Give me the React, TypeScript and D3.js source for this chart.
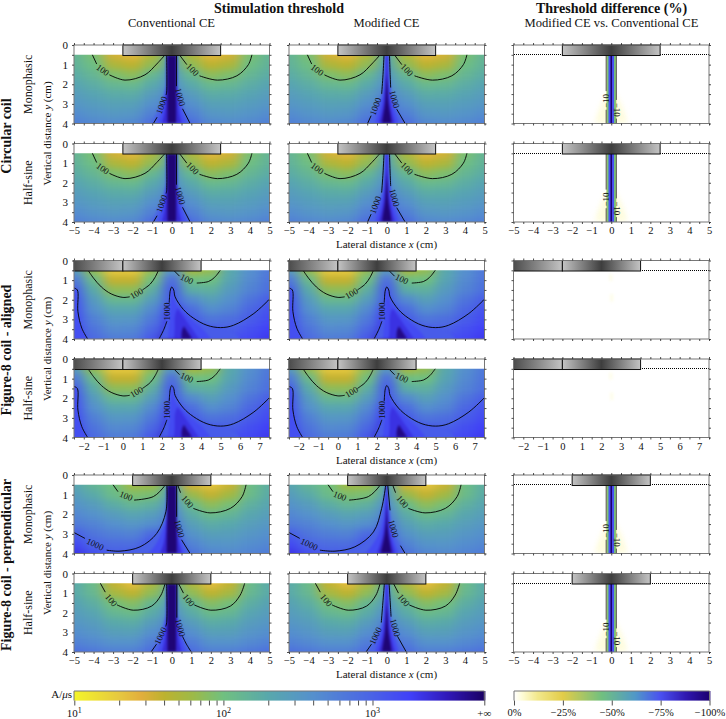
import React, { useRef, useEffect } from 'react';
import * as d3 from 'd3';

// threshold colour map (A/us)
const cmapValues = [10, 20, 28, 40, 63, 100, 200, 400, 1000, 1800, 3200, 5623];
const cmapColors = ['#f4f42a', '#e6c83f', '#e2ae3c', '#bdb22f', '#9cba48', '#70c080', '#58a8ac', '#5590cd', '#4a62e6', '#4040f8', '#3018b8', '#1a0064'];
const diffValues = [0, -4, -12, -25, -45, -62, -75, -88, -100];
const diffColors = ['#ffffff', '#fefcd8', '#f2e88c', '#e2cc48', '#70c080', '#5098c8', '#4a50f0', '#3018b0', '#1c0070'];
const cbarTicks = [10, 20, 30, 40, 50, 60, 70, 80, 90, 100, 200, 300, 400, 500, 600, 700, 800, 900, 1000];
const diffTicks = [0, -25, -50, -75, -100];
const yRows = [0.5, 1, 1.5, 2, 2.5, 3, 3.5, 4];

// fields, x = 0..5 mirrored
const halfColumns = [0, 1, 2, 3, 4, 5];
const circularRows = [
  [170, 50, 25, 33, 90, 140],
  [210, 70, 40, 50, 105, 150],
  [300, 125, 72, 85, 135, 180],
  [400, 190, 120, 130, 175, 225],
  [520, 280, 180, 185, 225, 280],
  [680, 400, 250, 245, 285, 340],
  [850, 560, 340, 320, 360, 430],
  [1000, 800, 470, 430, 470, 550],
];
const perpHalfRows = [
  [150, 50, 23, 38, 115, 190],
  [200, 72, 40, 56, 130, 190],
  [290, 130, 78, 95, 170, 235],
  [400, 185, 115, 135, 220, 280],
  [530, 280, 180, 195, 280, 340],
  [690, 410, 260, 265, 350, 420],
  [860, 590, 380, 380, 460, 540],
  [1000, 820, 560, 560, 650, 750],
];
const perpMonoColumns = [-5, -4, -3, -2, -1, 0, 1, 2, 3, 4, 5];
const perpMonoRows = [
  [220, 140, 100, 60, 62, 200, 33, 21, 36, 110, 170],
  [280, 190, 115, 85, 90, 260, 65, 38, 58, 115, 185],
  [370, 280, 180, 135, 160, 380, 115, 72, 92, 160, 220],
  [480, 380, 280, 220, 270, 520, 180, 115, 140, 210, 270],
  [620, 520, 400, 340, 420, 700, 260, 180, 200, 270, 330],
  [1050, 680, 560, 520, 850, 1000, 370, 260, 270, 340, 400],
  [1500, 950, 800, 780, 1250, 1300, 520, 360, 350, 420, 480],
  [2100, 1350, 1080, 1100, 1700, 1900, 720, 490, 450, 510, 600],
];
const alignedColumns = [-2.5, -1.5, -0.5, 0.5, 1.5, 2.5, 3.5, 4.5, 5.5, 6.5, 7.5];
const alignedRows = [
  [300, 70, 20, 20, 70, 350, 55, 70, 200, 400, 650],
  [650, 120, 38, 38, 100, 800, 105, 100, 230, 450, 700],
  [1000, 190, 72, 72, 170, 1050, 180, 160, 300, 520, 760],
  [1200, 290, 130, 130, 280, 1050, 450, 260, 400, 700, 1050],
  [1300, 400, 220, 220, 450, 1600, 800, 420, 520, 900, 1300],
  [1400, 550, 330, 340, 650, 1900, 1100, 700, 780, 1100, 1500],
  [1500, 700, 450, 470, 900, 2200, 1500, 1050, 1050, 1400, 1800],
  [1700, 850, 600, 620, 1200, 3500, 2500, 1500, 1400, 1600, 2000],
];

// iso bands: value, then rows of y, x0, x1
const circularConvBands = [
  { v: 1000, r: [[0.5, -0.3, 0.3], [2, -0.3, 0.3], [2.5, -0.4, 0.4], [3, -0.55, 0.52], [3.5, -0.78, 0.72], [4, -1.05, 1]] },
  { v: 1500, r: [[0.5, -0.28, 0.28], [2, -0.28, 0.28], [3, -0.42, 0.42], [3.5, -0.55, 0.55], [4, -0.75, 0.75]] },
  { v: 2500, r: [[0.5, -0.26, 0.26], [2, -0.26, 0.26], [3, -0.32, 0.32], [3.5, -0.38, 0.38], [4, -0.5, 0.5]] },
  { v: 5000, r: [[0.5, -0.22, 0.22], [4, -0.22, 0.22]] },
];
const circularModBands = [
  { v: 1000, r: [[0.5, -0.14, 0.14], [1, -0.15, 0.15], [2, -0.2, 0.2], [2.5, -0.26, 0.26], [3, -0.45, 0.42], [3.5, -0.7, 0.62], [4, -0.95, 0.92]] },
  { v: 1500, r: [[0.5, -0.08, 0.08], [2, -0.14, 0.14], [3, -0.3, 0.3], [3.5, -0.46, 0.46], [4, -0.62, 0.62]] },
  { v: 2500, r: [[0.5, -0.03, 0.03], [2, -0.08, 0.08], [3, -0.18, 0.18], [3.5, -0.28, 0.28], [4, -0.42, 0.42]] },
  { v: 5000, r: [[1.5, 0, 0], [2, -0.03, 0.03], [3, -0.09, 0.09], [3.5, -0.17, 0.17], [4, -0.25, 0.25]] },
];
const perpConvBands = [
  { v: 1000, r: [[0.5, -0.26, 0.26], [2, -0.32, 0.26], [3, -0.8, 0.42], [3.5, -1.4, 0.68], [4, -2.2, 0.94]] },
  { v: 1500, r: [[0.5, -0.26, 0.26], [2, -0.27, 0.26], [3, -0.55, 0.34], [3.5, -0.8, 0.5], [4, -1.2, 0.7]] },
  { v: 2500, r: [[0.5, -0.24, 0.24], [2, -0.25, 0.25], [3, -0.34, 0.3], [3.5, -0.42, 0.38], [4, -0.6, 0.5]] },
  { v: 5000, r: [[0.5, -0.22, 0.22], [4, -0.26, 0.26]] },
];
const perpModBands = [
  { v: 1000, r: [[0.5, -0.08, 0.06], [1.7, -0.26, 0.15], [2.9, -0.68, 0.32], [3.6, -1.4, 0.7], [4, -2.2, 0.94]] },
  { v: 1500, r: [[0.5, -0.05, 0.04], [2, -0.15, 0.12], [3, -0.42, 0.26], [3.5, -0.7, 0.42], [4, -1.1, 0.62]] },
  { v: 2500, r: [[0.5, -0.02, 0.02], [2, -0.07, 0.07], [3, -0.2, 0.16], [3.5, -0.32, 0.28], [4, -0.5, 0.42]] },
  { v: 5000, r: [[1.5, 0, 0], [2, -0.02, 0.02], [3, -0.1, 0.08], [3.5, -0.2, 0.16], [4, -0.32, 0.26]] },
];
const alignedBands = [
  { v: 1400, r: [[1.4, -2.7, -2.5], [1.5, -2.7, -2.33], [2.6, -2.7, -2.3], [3.45, -2.7, -2.1], [4, -2.7, -1.8]] },
  { v: 1100, r: [[1.35, 2.5, 2.5], [1.5, 2.43, 2.6], [1.9, 2.4, 2.72], [2.6, 2.3, 3.15], [3.2, 2.2, 3.95], [3.42, 2.1, 5], [4, 1.85, 6]] },
  { v: 1500, r: [[1.5, 2.47, 2.55], [2, 2.45, 2.62], [3, 2.4, 3.5], [3.5, 2.35, 4.1], [4, 2.3, 4.5]] },
  { v: 2200, r: [[2.5, 2.75, 2.85], [3, 2.65, 3.2], [3.5, 2.65, 3.55], [4, 2.6, 3.9]] },
  { v: 4500, r: [[3.4, 3.08, 3.16], [3.75, 3, 3.38], [4, 3, 3.55]] },
];
const diffGlow = [{ v: -3.5, r: [[2.3, -0.1, 0.1], [3, -0.5, 0.5], [3.5, -0.7, 0.7], [4, -0.85, 0.85]] }];
const diffStripes = [
  { v: -35, r: [[0.5, -0.25, 0.26], [4, -0.25, 0.26]] },
  { v: -45, r: [[0.5, -0.2, 0.22], [4, -0.2, 0.22]] },
  { v: -75, r: [[0.5, -0.14, 0.14], [4, -0.14, 0.14]] },
  { v: -100, r: [[0.5, -0.04, 0.04], [4, -0.04, 0.04]] },
];
const alignedSpots = [
  { v: -2.5, r: [[0.7, 2.4, 2.55], [1.05, 2.4, 2.55]] },
  { v: -2.5, r: [[1.7, 2.45, 2.6], [2.1, 2.45, 2.6]] },
];

// contour segments (x, y in cm), split where labels sit
const circular100 = [
  [[-4.06, 0.5], [-3.84, 0.97]],
  [[-3.19, 1.52], [-2.39, 1.79], [-1.37, 1.52], [-0.77, 0.97], [-0.34, 0.5]],
  [[0.39, 0.5], [0.77, 1]],
  [[1.42, 1.57], [2.34, 1.79], [3.33, 1.57], [3.92, 1], [4.1, 0.5]],
];
const circularConv1000 = [
  [[-0.26, 0.5], [-0.26, 2.4], [-0.29, 2.55]],
  [[-0.75, 3.68], [-0.94, 4]],
  [[0.24, 0.5], [0.24, 2.1]],
  [[0.55, 3.25], [0.94, 4]],
];
const circularMod1000 = [
  [[-0.14, 0.5], [-0.19, 1.5], [-0.26, 2.5]],
  [[-0.8, 3.6], [-0.98, 4]],
  [[0.14, 0.5], [0.17, 1.4], [0.2, 2.17]],
  [[0.51, 3.27], [0.94, 4]],
];
const aligned100 = [
  [[-1.78, 0.5], [-1.5, 0.9], [-1.1, 1.35], [-0.6, 1.7], [0, 1.88], [0.35, 1.85]],
  [[1, 1.5], [1.4, 1.2], [1.65, 0.85], [1.82, 0.5]],
  [[2.6, 0.5], [2.9, 0.8]],
  [[3.78, 1.15], [4.38, 1.07], [4.7, 0.85], [4.98, 0.5]],
];
const aligned1000 = [
  [[-2.5, 1.4], [-2.33, 1.5], [-2.3, 2.6], [-2.1, 3.45], [-1.8, 4]],
  [[1.85, 4], [2.1, 3.5], [2.25, 3.1]],
  [[2.37, 2.15], [2.4, 1.7], [2.43, 1.5], [2.5, 1.35], [2.6, 1.5], [2.67, 1.85], [3.1, 2.5], [3.6, 2.93], [4.3, 3.3], [5, 3.42], [5.66, 3.3], [6.7, 2.7], [7.5, 1.97]],
];
const perpMono100 = [
  [[-3, 0.5], [-2.75, 0.85]],
  [[-1.93, 1.28], [-0.94, 1.1], [-0.4, 0.6], [-0.34, 0.5]],
  [[0.3, 0.5], [0.45, 0.9]],
  [[1.1, 1.7], [1.96, 1.93], [3, 1.7], [3.6, 1.1], [3.8, 0.5]],
];
const perpMonoConv1000 = [
  [[-5, 2.93], [-4.44, 3.23]],
  [[-3.33, 3.83], [-2.65, 3.88], [-1.62, 3.66], [-0.77, 2.98], [-0.3, 1.87], [-0.25, 0.5]],
  [[0.25, 0.5], [0.25, 2.13]],
  [[0.5, 3.3], [0.94, 4]],
];
const perpMonoMod1000 = [
  [[-5, 2.93], [-4.45, 3.23]],
  [[-3.42, 3.83], [-2.65, 3.88], [-1.63, 3.66], [-0.68, 2.9], [-0.26, 1.7], [-0.05, 0.5]],
  [[0.05, 0.5], [0.17, 1.8]],
  [[0.7, 3.6], [0.94, 4]],
];
const perpHalf100 = [
  [[-3.65, 0.5], [-3.4, 0.95]],
  [[-2.8, 1.6], [-1.97, 1.87], [-1.03, 1.66], [-0.55, 1.1], [-0.34, 0.5]],
  [[0.34, 0.5], [0.6, 1]],
  [[1.15, 1.6], [2, 1.87], [3, 1.66], [3.5, 1.1], [3.73, 0.5]],
];
const perpHalfConv1000 = [
  [[-0.26, 0.5], [-0.26, 2.5], [-0.31, 2.7]],
  [[-0.78, 3.6], [-1.06, 4]],
  [[0.26, 0.5], [0.26, 2.25]],
  [[0.55, 3.2], [0.75, 3.6], [1, 4]],
];
const perpHalfMod1000 = [
  [[-0.12, 0.5], [-0.2, 1.5], [-0.28, 2.5]],
  [[-0.78, 3.6], [-1.06, 4]],
  [[0.12, 0.5], [0.18, 1.5], [0.22, 2.2]],
  [[0.55, 3.2], [1, 4]],
];
const diff10 = [
  [[-0.26, 0.5], [-0.26, 2.35]],
  [[-0.26, 3.3], [-0.26, 4]],
  [[0.26, 0.5], [0.26, 2.8]],
  [[0.26, 3.75], [0.26, 4]],
];

// contour labels: x, y, angle, text
const circularConvLabels = [[-3.53, 1.28, 35, '100'], [1.06, 1.26, 45, '100'], [-0.51, 3.07, -70, '1000'], [0.43, 2.65, 75, '1000']];
const circularModLabels = [[-3.56, 1.27, 35, '100'], [1.03, 1.27, 45, '100'], [-0.57, 3.13, -70, '1000'], [0.39, 2.76, 75, '1000']];
const alignedLabels = [[0.7, 1.68, -30, '100'], [3.27, 0.95, 25, '100'], [2.28, 2.6, -90, '1000']];
const perpMonoConvLabels = [[-2.34, 1.07, 22, '100'], [0.8, 1.36, 50, '100'], [-3.92, 3.53, 25, '1000'], [0.39, 2.73, 75, '1000']];
const perpMonoModLabels = [[-2.4, 1.07, 22, '100'], [0.8, 1.36, 50, '100'], [-3.97, 3.53, 25, '1000'], [0.34, 2.73, 75, '1000']];
const perpHalfConvLabels = [[-3.1, 1.36, 50, '100'], [0.86, 1.36, 50, '100'], [-0.57, 3.18, -65, '1000'], [0.43, 2.76, 75, '1000']];
const diffLabels = [[-0.29, 2.85, -90, '\u221210'], [0.27, 3.3, 90, '\u221210']];

const mirror = (rows: number[][]) => rows.map(r => [...r.slice(1).reverse(), ...r]);
const mirrorX = (xs: number[]) => [...xs.slice(1).map(x => -x).reverse(), ...xs];

const light = '#c4c4c4';
const dark = '#3e3e3e';
const symmetricCoil = (half: number) => [{ from: -half, to: half, stops: [[0, light], [0.5, dark], [1, light]] }];
const alignedCoil = [
  { from: -2.5, to: 0, stops: [[0, '#4c4c4c'], [1, light]] },
  { from: 0, to: 4, stops: [[0, light], [0.5, dark], [1, light]] },
];

const circularField = { xs: mirrorX(halfColumns), rows: mirror(circularRows) };
const alignedField = { xs: alignedColumns, rows: alignedRows };
const perpMonoField = { xs: perpMonoColumns, rows: perpMonoRows };
const perpHalfField = { xs: mirrorX(halfColumns), rows: mirror(perpHalfRows) };

const fullAxis = [-5, 5];
const alignedAxis = [-2.5, 7.5];

const rowSpecs = [
  { top: 45, name: 'Monophasic', axis: fullAxis, field: circularField, coil: symmetricCoil(2.5), ticks: false, hasDiff: true,
    conv: [circularConvBands, [...circular100, ...circularConv1000], circularConvLabels], mod: [circularModBands, [...circular100, ...circularMod1000], circularModLabels] },
  { top: 143.5, name: 'Half-sine', axis: fullAxis, field: circularField, coil: symmetricCoil(2.5), ticks: true, hasDiff: true,
    conv: [circularConvBands, [...circular100, ...circularConv1000], circularConvLabels], mod: [circularModBands, [...circular100, ...circularMod1000], circularModLabels] },
  { top: 260.5, name: 'Monophasic', axis: alignedAxis, field: alignedField, coil: alignedCoil, ticks: false, hasDiff: false,
    conv: [alignedBands, [...aligned100, ...aligned1000], alignedLabels], mod: [alignedBands, [...aligned100, ...aligned1000], alignedLabels] },
  { top: 359, name: 'Half-sine', axis: alignedAxis, field: alignedField, coil: alignedCoil, ticks: true, hasDiff: false,
    conv: [alignedBands, [...aligned100, ...aligned1000], alignedLabels], mod: [alignedBands, [...aligned100, ...aligned1000], alignedLabels] },
  { top: 475, name: 'Monophasic', axis: fullAxis, field: perpMonoField, coil: symmetricCoil(2), ticks: false, hasDiff: true,
    conv: [perpConvBands, [...perpMono100, ...perpMonoConv1000], perpMonoConvLabels], mod: [perpModBands, [...perpMono100, ...perpMonoMod1000], perpMonoModLabels] },
  { top: 573.5, name: 'Half-sine', axis: fullAxis, field: perpHalfField, coil: symmetricCoil(2), ticks: true, hasDiff: true,
    conv: [circularConvBands, [...perpHalf100, ...perpHalfConv1000], perpHalfConvLabels], mod: [circularModBands, [...perpHalf100, ...perpHalfMod1000], perpHalfConvLabels] },
];

const colLefts = [74, 289, 513.5];
const panelW = 195.5;
const panelH = 78.5;
const serif = "'Liberation Serif', serif";

const App: React.FC = () => {
  const svgRef = useRef<SVGSVGElement | null>(null);

  useEffect(() => {
    const svg = d3.select(svgRef.current);
    svg.selectAll('*').remove();
    svg.style('font-family', serif);

    const cmap = d3.scaleLog<string>().domain(cmapValues).range(cmapColors).clamp(true);
    const dmap = d3.scaleLinear<string>().domain(diffValues).range(diffColors).clamp(true);

    const defs = svg.append('defs');
    const addBlur = (id: string, dev: string) =>
      defs.append('filter').attr('id', id)
        .attr('filterUnits', 'userSpaceOnUse')
        .attr('x', 0).attr('y', 0).attr('width', 726).attr('height', 719)
        .attr('color-interpolation-filters', 'sRGB')
        .append('feGaussianBlur').attr('stdDeviation', dev);
    addBlur('fieldBlur', '6 3.2');
    addBlur('bandBlur', '1 1.6');
    addBlur('stripeBlur', '0.4');
    addBlur('glowBlur', '2.5 3');
    addBlur('spotBlur', '1.5');

    let uid = 0;

    const drawBands = (g: any, x: any, y: any, bands: any[], color: (v: number) => string, filter: string) => {
      const area = d3.area<number[]>()
        .y(d => y(d[0]))
        .x0(d => x(d[1]))
        .x1(d => x(d[2]))
        .curve(d3.curveMonotoneY);
      const layer = g.append('g').attr('filter', `url(#${filter})`);
      bands.forEach(b => {
        layer.append('path').attr('d', area(b.r)).attr('fill', color(b.v));
      });
    };

    const drawPanel = (spec: any, col: number) => {
      const left = colLefts[col];
      const x = d3.scaleLinear().domain(spec.axis).range([left, left + panelW]);
      const y = d3.scaleLinear().domain([0, 4]).range([spec.top, spec.top + panelH]);
      const panel = svg.append('g');
      const clipId = `clip${uid++}`;
      defs.append('clipPath').attr('id', clipId).append('rect')
        .attr('x', left).attr('y', y(0.5)).attr('width', panelW).attr('height', y(4) - y(0.5));

      const clipped = panel.append('g').attr('clip-path', `url(#${clipId})`);
      let bands: any[] = [];
      let segments: number[][][] = [];
      let labels: any[] = [];

      if (col < 2) {
        [bands, segments, labels] = col === 0 ? spec.conv : spec.mod;
        // base field cells, softened by the blur filter
        const { xs, rows } = spec.field;
        const base = clipped.append('g').attr('filter', 'url(#fieldBlur)');
        const edgeX = (i: number) => i < 0 ? left - 40 : i >= xs.length - 1 ? left + panelW + 40 : x((xs[i] + xs[i + 1]) / 2);
        const edgeY = (j: number) => j < 0 ? y(0.5) - 30 : j >= yRows.length - 1 ? y(4) + 30 : y((yRows[j] + yRows[j + 1]) / 2);
        rows.forEach((row: number[], j: number) => {
          row.forEach((v, i) => {
            base.append('rect')
              .attr('x', edgeX(i - 1)).attr('y', edgeY(j - 1))
              .attr('width', edgeX(i) - edgeX(i - 1) + 0.5)
              .attr('height', edgeY(j) - edgeY(j - 1) + 0.5)
              .attr('fill', cmap(v));
          });
        });
        drawBands(clipped, x, y, bands, cmap, 'bandBlur');
      } else if (spec.hasDiff) {
        drawBands(clipped, x, y, diffGlow, dmap, 'glowBlur');
        drawBands(clipped, x, y, diffStripes, dmap, 'stripeBlur');
        segments = diff10;
        labels = diffLabels;
      } else {
        drawBands(clipped, x, y, alignedSpots, dmap, 'spotBlur');
      }

      // contours
      const line = d3.line<number[]>().x(d => x(d[0])).y(d => y(d[1])).curve(d3.curveCatmullRom.alpha(0.5));
      segments.forEach(seg => {
        panel.append('path').attr('d', line(seg)).attr('fill', 'none')
          .attr('stroke', col === 2 ? '#444' : '#000').attr('stroke-width', 0.9);
      });
      labels.forEach(l => {
        panel.append('text')
          .attr('transform', `translate(${x(l[0])},${y(l[1])}) rotate(${l[2]})`)
          .attr('text-anchor', 'middle').attr('dy', '0.33em')
          .attr('font-size', 9).attr('fill', '#111').text(l[3]);
      });

      // dotted coil level on the difference panels
      if (col === 2) {
        const dotY = Math.floor(y(0.5)) + 0.5;
        panel.append('line').attr('x1', Math.round(left)).attr('x2', Math.round(left + panelW))
          .attr('y1', dotY).attr('y2', dotY)
          .attr('stroke', '#000').attr('stroke-width', 1).attr('stroke-dasharray', '1 1');
      }

      // coil
      spec.coil.forEach((part: any) => {
        const id = `coil${uid++}`;
        const grad = defs.append('linearGradient').attr('id', id)
          .attr('gradientUnits', 'userSpaceOnUse')
          .attr('x1', x(part.from)).attr('x2', x(part.to)).attr('y1', 0).attr('y2', 0);
        part.stops.forEach((s: any) => grad.append('stop').attr('offset', s[0]).attr('stop-color', s[1]));
        panel.append('rect')
          .attr('x', x(part.from)).attr('y', y(0))
          .attr('width', x(part.to) - x(part.from)).attr('height', y(0.5) - y(0) + 0.7)
          .attr('fill', `url(#${id})`).attr('stroke', '#111').attr('stroke-width', 1);
      });

      // frame and ticks
      panel.append('rect').attr('x', left).attr('y', spec.top).attr('width', panelW).attr('height', panelH)
        .attr('fill', 'none').attr('stroke', '#777').attr('stroke-width', 1);

      const [x0, x1] = spec.axis;
      const xMinor = d3.range(x0, x1 + 0.01, 0.5);
      const yMinor = d3.range(0, 4.01, 0.5);
      const addAxis = (gen: any, tx: number, ty: number) => {
        const a = panel.append('g').attr('transform', `translate(${tx},${ty})`).call(gen);
        a.select('.domain').remove();
        a.selectAll('.tick line').attr('stroke', '#222').attr('stroke-width', 0.8);
        return a;
      };
      addAxis(d3.axisTop(x).tickValues(xMinor).tickSize(2).tickSizeOuter(0).tickFormat(() => ''), 0, spec.top);
      addAxis(d3.axisBottom(x).tickValues(xMinor).tickSize(2).tickSizeOuter(0).tickFormat(() => ''), 0, spec.top + panelH);
      addAxis(d3.axisRight(y).tickValues(yMinor).tickSize(2).tickSizeOuter(0).tickFormat(() => ''), left + panelW, 0);
      const yAxis = d3.axisLeft(y).tickValues(yMinor).tickSize(2).tickSizeOuter(0)
        .tickFormat((d: any) => (col === 0 && Number.isInteger(d) ? String(d) : ''));
      const ya = addAxis(yAxis, left, 0);
      ya.selectAll('text').attr('font-family', serif).attr('font-size', 11).attr('fill', '#111').attr('dx', -1);

      if (spec.ticks) {
        const labelVals = d3.range(Math.ceil(x0), x1 + 0.01, 1);
        const xa = addAxis(
          d3.axisBottom(x).tickValues(labelVals).tickSize(0).tickPadding(5)
            .tickFormat((d: any) => String(d).replace('-', '\u2212')),
          0, spec.top + panelH);
        xa.selectAll('text').attr('font-family', serif).attr('font-size', 10.5).attr('fill', '#111');
      }
    };

    rowSpecs.forEach(spec => {
      [0, 1, 2].forEach(col => drawPanel(spec, col));
    });

    const text = (tx: number, ty: number, str: string, size: number, opts: any = {}) => {
      const t = svg.append('text')
        .attr('transform', `translate(${tx},${ty})${opts.rotate ? ` rotate(${opts.rotate})` : ''}`)
        .attr('text-anchor', opts.anchor || 'middle')
        .attr('font-size', size)
        .attr('font-weight', opts.bold ? 'bold' : 'normal')
        .attr('fill', '#111');
      return t.text(str);
    };
    const withItalic = (t: any, before: string, ital: string, after: string) => {
      t.text(null);
      t.append('tspan').text(before);
      t.append('tspan').attr('font-style', 'italic').text(ital);
      t.append('tspan').text(after);
    };

    // headings
    text(279, 13, 'Stimulation threshold', 14, { bold: true });
    text(611.5, 13, 'Threshold difference (%)', 14, { bold: true });
    text(171.5, 27, 'Conventional CE', 12.6);
    text(386.5, 27, 'Modified CE', 12.6);
    text(611.5, 27, 'Modified CE vs. Conventional CE', 12.6);

    // row labels
    rowSpecs.forEach(spec => {
      text(32, spec.top + panelH / 2, spec.name, 12, { rotate: -90 });
    });
    [[136, 'Circular coil'], [350, 'Figure-8 coil - aligned'], [565, 'Figure-8 coil - perpendicular']].forEach(([cy, name]) => {
      text(11, cy as number, name as string, 14, { rotate: -90, bold: true });
    });
    [133.5, 349, 563].forEach(cy => {
      const t = text(51, cy, '', 11, { rotate: -90 });
      withItalic(t, 'Vertical distance ', 'y', ' (cm)');
    });
    [rowSpecs[1], rowSpecs[3], rowSpecs[5]].forEach(spec => {
      const t = text(386.5, spec.top + panelH + 26, '', 11);
      withItalic(t, 'Lateral distance ', 'x', ' (cm)');
    });

    // threshold colour bar
    const barTop = 691;
    const barH = 9.5;
    const bar = d3.scaleLog().domain([10, 5623]).range([74.3, 484.3]);
    d3.range(74, 484.5, 1).forEach(px => {
      svg.append('rect').attr('x', px).attr('y', barTop).attr('width', 1.4).attr('height', barH)
        .attr('fill', cmap(bar.invert(px + 0.5)));
    });
    const barAxis = svg.append('g').attr('transform', `translate(0,${barTop + barH})`)
      .call(d3.axisBottom(bar).tickValues([...cbarTicks, 5623]).tickSize(5).tickFormat(() => ''));
    barAxis.select('.domain').remove();
    barAxis.selectAll('.tick line').attr('stroke', '#222').attr('stroke-width', 0.8);
    svg.append('path').attr('d', `M74,${barTop + barH}V${barTop}H484.3V${barTop + barH}`)
      .attr('fill', 'none').attr('stroke', '#777');
    [[10, '1'], [100, '2'], [1000, '3']].forEach(([v, e]) => {
      const t = text(bar(v as number), 717, '', 11);
      t.append('tspan').text('10');
      t.append('tspan').attr('dy', -4).attr('font-size', 8).text(e as string);
    });
    text(484.3, 717, '+\u221E', 11);
    const aus = text(72, 698, '', 11, { anchor: 'end' });
    aus.append('tspan').text('A/');
    aus.append('tspan').attr('font-style', 'italic').text('\u03BC');
    aus.append('tspan').text('s');

    // difference colour bar
    const dbar = d3.scaleLinear().domain([0, -100]).range([514, 709.5]);
    d3.range(514, 709.5, 1).forEach(px => {
      svg.append('rect').attr('x', px).attr('y', barTop).attr('width', 1.4).attr('height', barH)
        .attr('fill', dmap(dbar.invert(px + 0.5)));
    });
    const dAxis = svg.append('g').attr('transform', `translate(0,${barTop + barH})`)
      .call(d3.axisBottom(dbar).tickValues(diffTicks).tickSize(5)
        .tickFormat((d: any) => `${String(d).replace('-', '\u2212')}%`));
    dAxis.select('.domain').remove();
    dAxis.selectAll('.tick line').attr('stroke', '#222').attr('stroke-width', 0.8);
    dAxis.selectAll('text').attr('font-family', serif).attr('font-size', 10.5).attr('fill', '#111');
    svg.append('path').attr('d', `M514,${barTop + barH}V${barTop}H709.5V${barTop + barH}`)
      .attr('fill', 'none').attr('stroke', '#777');
  }, []);

  return <svg ref={svgRef} width={726} height={719} style={{ position: 'absolute', left: 0, top: 0 }} />;
};

export default App;
